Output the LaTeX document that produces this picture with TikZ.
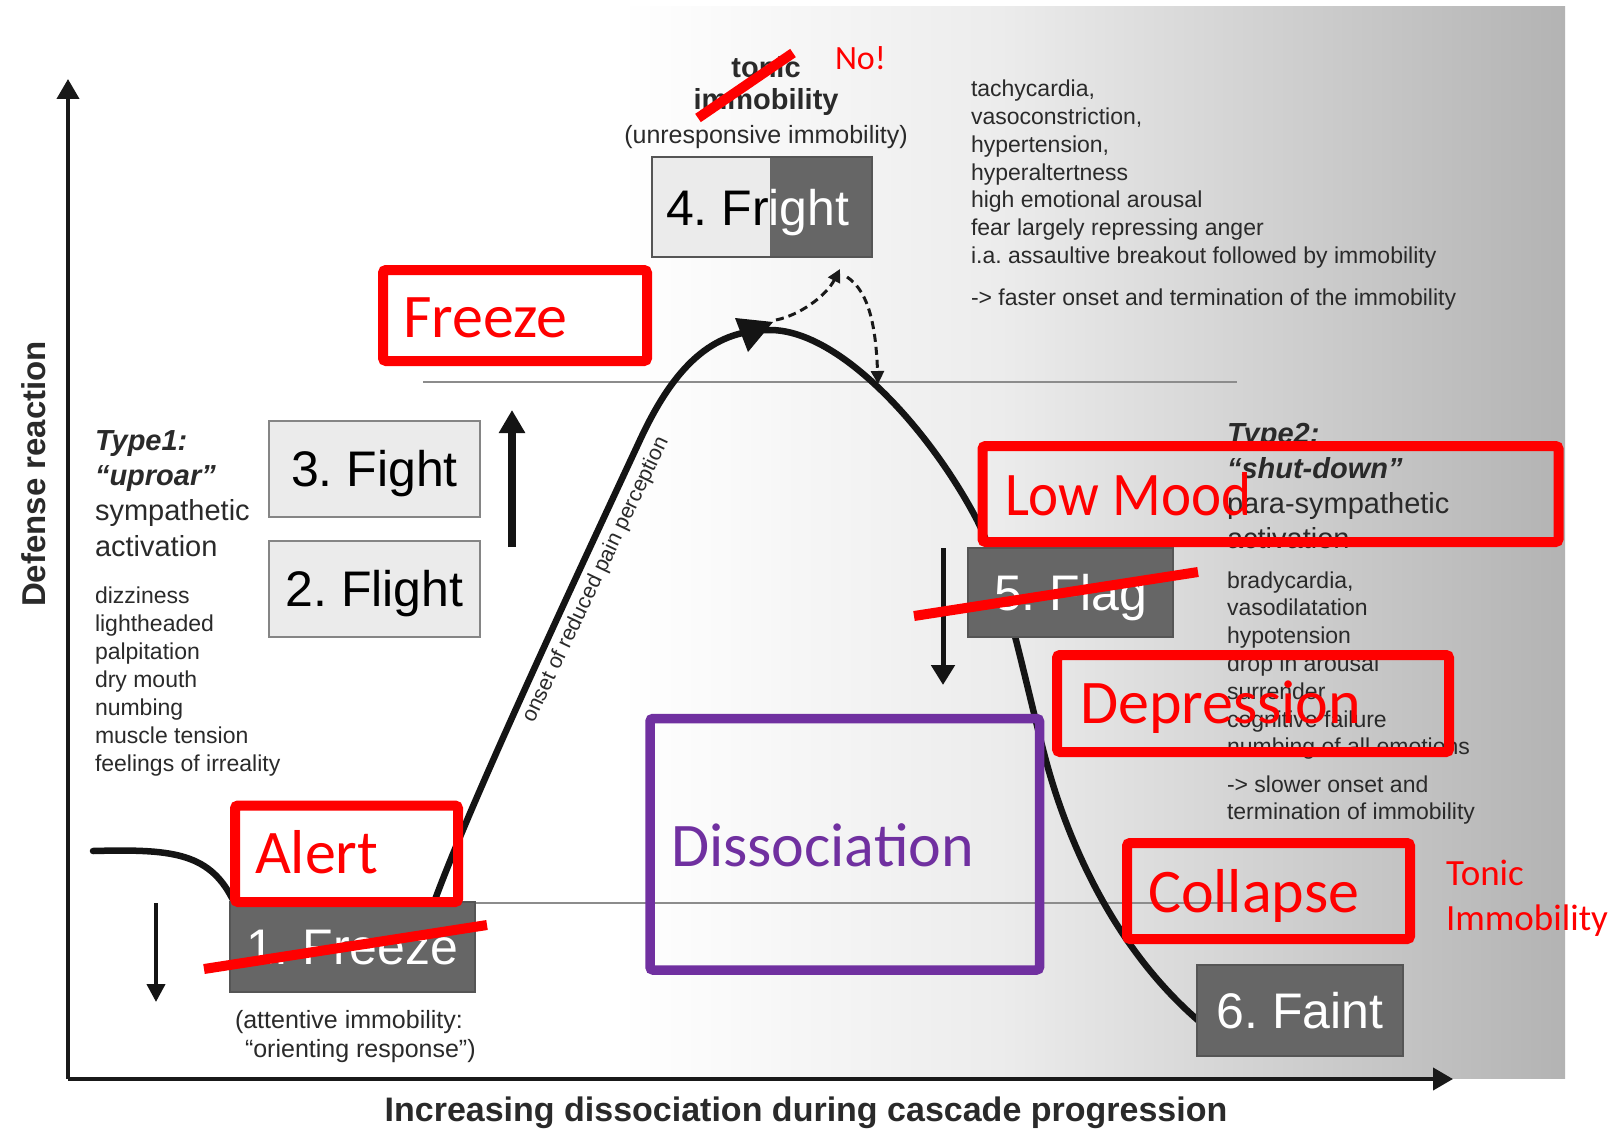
\documentclass[tikz,border=0pt]{standalone}
\usepackage{fontspec}
\setmainfont{Liberation Sans}
\newfontfamily\calibfont{Carlito}
\usetikzlibrary{arrows.meta}
\definecolor{txtc}{HTML}{2A2A2A}
\definecolor{darkbox}{HTML}{666666}
\definecolor{darkedge}{HTML}{555555}
\definecolor{lightbox}{HTML}{EBEBEB}
\definecolor{lightedge}{HTML}{858585}
\definecolor{annred}{HTML}{FF0000}
\definecolor{purp}{HTML}{7030A0}
\definecolor{bgA}{HTML}{ECECEC}
\definecolor{bgB}{HTML}{B3B3B3}
\definecolor{guidec}{HTML}{8C8C8C}
\newcommand{\myfs}[1]{\fontsize{#1}{#1}\selectfont}
\begin{document}
\frenchspacing
\begin{tikzpicture}[x=1pt,y=-1pt,
  every node/.style={inner sep=0pt,outer sep=0pt},
  txt/.style={text=txtc, anchor=base west},
  smalltxt/.style={txt, font=\myfs{23}},
  headtxt/.style={txt, font=\myfs{29}},
  headbi/.style={txt, font=\myfs{29}\bfseries\itshape},
  stagelabel/.style={font=\myfs{50}, text height=35.8pt, text depth=0pt},
  darkstage/.style={stagelabel, fill=darkbox, draw=darkedge, line width=1.5pt, text=white},
  lightstage/.style={stagelabel, fill=lightbox, draw=lightedge, line width=1.5pt, text=black},
  redbox/.style={draw=annred, line width=10pt, rounded corners=3pt},
  purplebox/.style={draw=purp, line width=9.5pt, rounded corners=3pt},
  redlabel/.style={anchor=base west, text=annred, font=\calibfont\myfs{62}},
  redsmall/.style={anchor=base west, text=annred, font=\calibfont\myfs{37}},
  strike/.style={draw=annred, line width=10pt},
  axisline/.style={draw=black!90, line width=4pt, -{Triangle[length=20pt,width=22pt]}},
  guide/.style={draw=guidec, line width=2pt},
  bell/.style={draw=black!92, line width=6.5pt, line cap=round, line join=round},
  dasharrow/.style={draw=black!90, line width=3pt, dash pattern=on 8pt off 5pt, -{Triangle[length=13pt,width=13pt]}},
  bigup/.style={draw=black!92, line width=8pt, -{Triangle[length=23pt,width=25pt]}},
  smalldown/.style={draw=black!92, line width=4pt, -{Triangle[length=18pt,width=18pt]}},
  middown/.style={draw=black!92, line width=5pt, -{Triangle[length=20pt,width=23pt]}}
]
\useasboundingbox (0,0) rectangle (1616,1129);
% background
\fill[white] (0,0) rectangle (1616,1129);
\shade[left color=white, right color=bgA] (620,7) rectangle (1000.5,1078);
\shade[left color=bgA, right color=bgB] (1000,7) rectangle (1565,1078);

% guide lines
\coordinate (gu1) at (423,382); \coordinate (gu2) at (1237,382);
\coordinate (gl1) at (463,903); \coordinate (gl2) at (1233,903);
\draw[guide] (gu1) -- (gu2);
\draw[guide] (gl1) -- (gl2);

% axes
\coordinate (origin) at (68,1079);
\coordinate (ytop) at (68,79);
\coordinate (xend) at (1453,1079);
\draw[axisline] (origin) -- (ytop);
\draw[axisline] (origin) -- (xend);
\node[font=\myfs{33}\bfseries, text=txtc, anchor=base, rotate=90] (ylab) at (45,474) {Defense reaction};
\node[font=\myfs{34}\bfseries, text=txtc, anchor=base] (xlab) at (806,1121) {Increasing dissociation during cascade progression};

% bell curve
\draw[bell] (93,851) .. controls (170,849) and (208,852) .. (232,898)
  .. controls (255,940) and (285,966) .. (330,968)
  .. controls (390,970) and (421,937) .. (436,897)
  .. controls (476,790) and (580,569) .. (640,440)
  .. controls (678,358) and (718,330) .. (770,330)
  .. controls (840,330) and (930,430) .. (977,520)
  .. controls (1002,568) and (1025,681) .. (1045,757)
  .. controls (1065,833) and (1110,945) .. (1200,1022);
\fill[black!92] (735,318) -- (773,322) -- (748,352) -- cycle;
\node[font=\myfs{21.5}, text=txtc, rotate=64.5] (pain) at (596,580) {onset of reduced pain perception};

% dashed arrows
\coordinate (peak) at (776,320); \coordinate (up4) at (840,269);
\coordinate (back4) at (847,277); \coordinate (land) at (878,384);
\draw[dasharrow] (peak) .. controls (800,315) and (826,296) .. (up4);
\draw[dasharrow] (back4) .. controls (870,292) and (876,330) .. (land);

% stage boxes
\node[lightstage, minimum width=211pt, minimum height=96pt] (fight) at (374.5,469) {3. Fight};
\node[lightstage, minimum width=211pt, minimum height=96pt] (flight) at (374.5,589) {2. Flight};
\node[darkstage, minimum width=245pt, minimum height=90pt] (freeze) at (352.5,947) {1. Freeze};
\node[darkstage, minimum width=205pt, minimum height=89pt] (flag) at (1070.5,592.5) {5. Flag};
\node[darkstage, minimum width=206pt, minimum height=91pt] (faint) at (1300,1010.5) {6. Faint};
\fill[lightbox] (652,157) rectangle (770,257);
\fill[darkbox] (770,157) rectangle (872,257);
\node[draw=darkedge, line width=1.5pt, minimum width=220pt, minimum height=100pt] (fright) at (762,207) {};
\node[anchor=base west, font=\myfs{50}] (frighttxt) at (666,225) {\textcolor{black}{4. Fr}\textcolor{white}{ight}};

% tonic immobility
\node[font=\myfs{29}\bfseries, text=txtc, anchor=base] (tonic) at (766,78) {tonic};
\node[font=\myfs{29}\bfseries, text=txtc, anchor=base] (immob) at (766,110) {immobility};
\node[font=\myfs{25}, text=txtc, anchor=base] (unresp) at (766,143) {(unresponsive immobility)};

% right top list
\foreach \t [count=\i from 0] in {{tachycardia,},{vasoconstriction,},{hypertension,},hyperaltertness,{high emotional arousal},{fear largely repressing anger},{i.a. assaultive breakout followed by immobility}}
  \node[smalltxt] (sym\i) at (971,97+27.7*\i) {\t};
\node[smalltxt] (faster) at (971,305) {-> faster onset and termination of the immobility};

% Type 1
\node[headbi] (t1a) at (95,450) {Type1:};
\node[headbi] (t1b) at (95,485) {“uproar”};
\node[headtxt] (t1c) at (95,520) {sympathetic};
\node[headtxt] (t1d) at (95,556) {activation};
\foreach \t [count=\i from 0] in {dizziness,lightheaded,palpitation,{dry mouth},numbing,{muscle tension},{feelings of irreality}}
  \node[smalltxt] (left\i) at (95,603.5+28*\i) {\t};

% Type 2
\node[headbi] (t2a) at (1227,443) {Type2:};
\node[headbi] (t2b) at (1227,478) {“shut-down”};
\node[headtxt] (t2c) at (1227,513) {para-sympathetic};
\node[headtxt] (t2d) at (1227,548) {activation};
\foreach \t [count=\i from 0] in {{bradycardia,},vasodilatation,hypotension,{drop in arousal},surrender,{cognitive failure},{numbing of all emotions}}
  \node[smalltxt] (right\i) at (1227,588+27.8*\i) {\t};
\node[smalltxt] (slow1) at (1227,792) {-> slower onset and};
\node[smalltxt] (slow2) at (1227,819.5) {termination of immobility};

% attentive immobility
\node[font=\myfs{25}, text=txtc, anchor=base west] (att1) at (235,1028) {(attentive immobility:};
\node[font=\myfs{25}, text=txtc, anchor=base west] (att2) at (245,1057) {“orienting response”)};

% vertical arrows
\coordinate (ua1) at (512,547); \coordinate (ua2) at (512,410);
\draw[bigup] (ua1) -- (ua2);
\coordinate (la1) at (156,903); \coordinate (la2) at (156,1002);
\draw[smalldown] (la1) -- (la2);
\coordinate (ra1) at (943,548); \coordinate (ra2) at (943,685);
\draw[middown] (ra1) -- (ra2);

% red annotation boxes
\node[redbox, minimum width=264pt, minimum height=91pt] (freezeR) at (515,315.5) {};
\node[redlabel] (freezeT) at (403,337) {Freeze};
\node[redbox, minimum width=576pt, minimum height=96pt] (lowR) at (1270.5,494) {};
\node[redlabel] (lowT) at (1005,515) {\scalebox{0.92}[1]{Low Mood}};
\node[redbox, minimum width=392pt, minimum height=97pt] (depR) at (1253,703.5) {};
\node[redlabel] (depT) at (1080,723) {Depression};
\node[redbox, minimum width=283pt, minimum height=96pt] (colR) at (1268.5,891) {};
\node[redlabel] (colT) at (1148,912) {Collapse};
\node[redbox, minimum width=223pt, minimum height=96.5pt] (alertR) at (346.5,853.75) {};
\node[redlabel] (alertT) at (255,873) {Alert};
\node[purplebox, minimum width=389.5pt, minimum height=251.5pt] (dissR) at (844.75,844.25) {};
\node[anchor=base west, text=purp, font=\calibfont\myfs{62}] (dissT) at (671,866) {Dissociation};

% strikes
\coordinate (s1a) at (698,118); \coordinate (s1b) at (793,53);
\draw[strike] (s1a) -- (s1b);
\coordinate (s2a) at (204,969); \coordinate (s2b) at (487,925);
\draw[strike] (s2a) -- (s2b);
\coordinate (s3a) at (914,616); \coordinate (s3b) at (1198,572);
\draw[strike] (s3a) -- (s3b);

\node[anchor=base west, text=annred, font=\calibfont\myfs{34}] (noT) at (835,70) {No!};
\node[redsmall] (tonicT) at (1446,885) {Tonic};
\node[redsmall] (immT) at (1446,930) {Immobility};
\end{tikzpicture}
\end{document}
